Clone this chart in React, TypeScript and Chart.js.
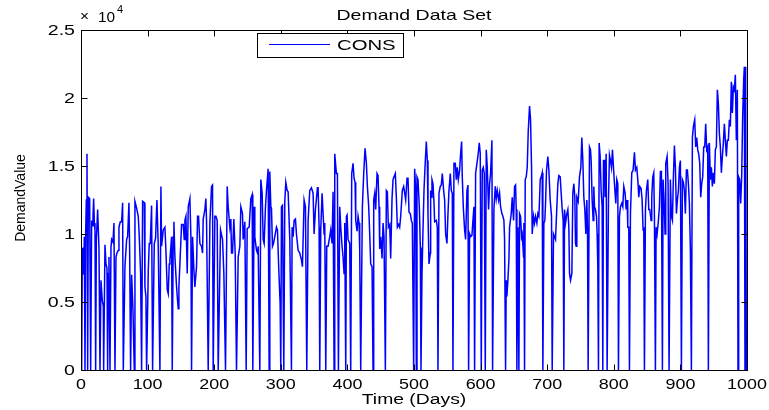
import React, { useEffect, useRef } from "react";
import { Chart, registerables } from "chart.js";

Chart.register(...registerables);

const titleText = "Demand Data Set";
const xTitle = "Time (Days)";
const yTitle = "DemandValue";
const seriesLabel = "CONS";
const xTicks = [0, 100, 200, 300, 400, 500, 600, 700, 800, 900, 1000];
const xTickLabels = ["0", "100", "200", "300", "400", "500", "600", "700", "800", "900", "1000"];
const yTicks = [0, 5000, 10000, 15000, 20000, 25000];
const yTickLabels = ["0", "0.5", "1", "1.5", "2", "2.5"];

// [day, demand]
const cons000to131: [number, number][] = [
  [0, 5000], [1, 0], [2, 8900], [3, 9000], [4, 7000], [5, 9800], [6, 0], [7, 10000], [8, 12500], [9, 15900],
  [10, 0], [11, 12700], [12, 12700], [13, 12600], [14.5, 0], [16, 11000], [17, 10600], [18, 11300], [19, 12600],
  [20, 10800], [21, 10300], [22, 0], [23, 9500], [25, 11800], [27, 8900], [28.5, 0], [30, 6600], [31, 5800],
  [32, 5100], [33.5, 4700], [34, 0], [36, 9200], [37.5, 7800], [39, 7500], [40, 0], [41, 7100], [42, 8300],
  [43.5, 0], [45, 9000], [46, 9600], [48, 9400], [49.5, 10800], [51, 0], [52.5, 8300], [54, 8600], [56, 8800],
  [57, 10500], [59, 10900], [61, 10900], [62.5, 12300], [63.5, 0], [66, 7600], [68.5, 9600], [70, 9800],
  [72, 12300], [73, 9000], [74.5, 0], [76, 7000], [78, 4500], [80, 0], [81, 12400], [83.5, 11900], [86, 11300],
  [87.5, 9800], [89.5, 7100], [91, 0], [92.5, 12400], [95, 12300], [96, 6100], [97.5, 5400], [98.5, 0],
  [101, 7300], [102.5, 9300], [104, 9300], [106, 12100], [107.5, 0], [110, 9300], [112, 9700], [114, 12500],
  [116, 9100], [118.5, 0], [120, 13500], [121, 9100], [123.5, 10300], [126, 10500], [127.5, 8800],
  [129.5, 5900], [131, 5600],
];
const cons132to258: [number, number][] = [
  [132.5, 7800], [133.5, 8100], [136, 9800], [137, 0], [138.5, 9800], [139.5, 10900], [141, 8300], [143.5, 6100],
  [145, 5100], [146, 4500], [147, 6100], [148.5, 7800], [151, 10700], [153.5, 10700], [155, 9600], [156, 11000],
  [157.5, 11300], [159.5, 7100], [161, 12000], [163.5, 12600], [165, 9800], [166, 0], [167.5, 9800],
  [169.5, 7400], [171, 6100], [173.5, 7600], [175, 11300], [176.5, 11300], [178.5, 9300], [181, 9100],
  [182.5, 8600], [183.5, 11100], [186, 11800], [187.5, 12600], [188.5, 11000], [191, 0], [193.5, 10800],
  [196, 13500], [197.5, 13600], [198.5, 0], [201, 11300], [202.5, 11300], [204.5, 11000], [206, 0],
  [209.5, 10300], [212.5, 9600], [214.5, 7100], [217, 0], [219.5, 13500], [221, 12000], [223.5, 10500],
  [225, 11100], [226, 8600], [227.5, 8600], [229.5, 11100], [231.5, 8600], [233.5, 0], [236, 8300],
  [238.5, 9100], [240, 12000], [242.5, 11500], [243.5, 9600], [246, 10900], [248, 0], [249.5, 10400],
  [252.5, 10500], [255, 12600], [257, 12900], [258, 0],
];
const cons260to386: [number, number][] = [
  [260, 12000], [261, 9800], [263.5, 8800], [265, 8600], [266, 9100], [268.5, 0], [270, 14000], [272, 13000],
  [273.5, 9600], [275, 9300], [277, 12000], [278.5, 13200], [281, 14800], [282.5, 0], [283.5, 14600],
  [285, 12000], [286, 11900], [287.5, 9100], [289, 9300], [291, 9800], [293.5, 10500], [295, 10300],
  [297, 7350], [299, 4900], [300, 0], [301, 12000], [302.5, 12100], [304.5, 0], [306, 12400], [307.5, 13800],
  [309.5, 13200], [311, 13100], [313.5, 9600], [316, 0], [317, 10500], [318.5, 9800], [320, 11000],
  [322, 11100], [323.5, 10000], [326, 8800], [328.5, 8600], [331, 8100], [332.5, 7600], [335, 12500],
  [337, 12000], [339, 0], [341, 11000], [343.5, 13200], [346, 13400], [348.5, 13000], [350, 10000],
  [352, 11800], [355, 13400], [356, 13400], [357.5, 10500], [358.5, 0], [360, 10300], [362, 13000],
  [365, 10000], [366, 10800], [367.5, 0], [369, 9100], [371, 9100], [373.5, 9800], [375, 10300], [377, 9300],
  [378.5, 13100], [380, 0], [381, 15900], [383.5, 14450], [385, 14450], [386.5, 0],
];
const cons388to505: [number, number][] = [
  [388.5, 12000], [390, 10500], [392, 9100], [393.5, 8300], [395, 7100], [396, 10800], [397.5, 0],
  [398.5, 11300], [399.5, 11400], [401, 9600], [403.5, 9300], [405, 0], [406.5, 14450], [408.5, 15200],
  [410, 14100], [411.5, 13800], [412.5, 11000], [414.5, 10200], [416, 11300], [417.5, 10800], [418.5, 8800],
  [420, 0], [422.5, 12000], [424.5, 14450], [426.5, 16300], [428.5, 15200], [430, 13500], [432, 12000],
  [433.5, 10000], [435, 7800], [437, 7600], [438.5, 0], [439.5, 12500], [441, 13000], [442.5, 11800],
  [444.5, 14450], [446, 14300], [447.5, 12000], [448.5, 8900], [450, 9800], [452, 8200], [453.5, 10800],
  [455, 9800], [457, 0], [458.5, 13200], [460, 13100], [461.5, 10500], [463.5, 10700], [465, 8200],
  [467, 12600], [468.5, 14000], [470, 14200], [472, 14450], [473.5, 12700], [475, 10500], [477, 10700],
  [478.5, 10500], [480, 11300], [482.5, 13200], [484.5, 13500], [486, 13000], [487.5, 12500], [489.5, 14100],
  [491, 14100], [492.5, 11600], [494.5, 11500], [496, 11000], [497.5, 10800], [499.5, 0], [501, 14800],
  [502.5, 13200], [503.5, 0], [504.5, 14200],
];
const cons506to636: [number, number][] = [
  [506, 14000], [508, 12000], [509.5, 9000], [510.5, 0], [512, 7000], [513.5, 10300], [515, 13200],
  [517, 15400], [518.5, 16800], [520, 15400], [521, 11500], [522.5, 7800], [524.5, 8600], [525, 13200],
  [526, 12700], [527, 14000], [528.5, 13700], [530, 12300], [531, 10900], [533.5, 11000], [535, 10500],
  [536, 0], [537.5, 13000], [539.5, 13500], [541, 13600], [542.5, 14450], [544.5, 13200], [546, 12500],
  [547.5, 10000], [549.5, 9300], [551, 11500], [552.5, 13200], [554.5, 14450], [556, 13200], [557.5, 13000],
  [558.5, 0], [560, 15200], [562, 15200], [563.5, 14000], [565, 14900], [566.5, 14000], [568.5, 14700],
  [570, 15900], [571.5, 16800], [572.5, 14200], [574, 12000], [576, 10300], [577.5, 9600], [579.5, 13200],
  [581, 13600], [582, 0], [583.5, 10000], [585, 9800], [587, 9900], [588.5, 11000], [590, 12000], [591, 0],
  [592.5, 14450], [594.5, 15200], [596, 15700], [598, 16700], [599.5, 15900], [601, 0], [602.5, 14700],
  [604, 14900], [605.5, 14450], [607, 0], [608.5, 16200], [610, 14900], [612, 11800], [613.5, 13700],
  [615, 14450], [617, 16900], [618, 0], [620, 11800], [622, 13500], [623.5, 12600], [625, 13200],
  [627, 12500], [628.5, 13000], [630, 12000], [632, 11500], [633.5, 11300], [635, 11000], [636, 9600],
];
const cons637to762: [number, number][] = [
  [637.5, 0], [638.5, 6600], [639.5, 5400], [641, 6600], [642.5, 8100], [643.5, 10500], [646, 11500],
  [647.5, 12700], [649.5, 11000], [651, 13500], [652.5, 13600], [653.5, 11800], [654.5, 0], [656, 10500],
  [657.5, 0], [658.5, 11500], [660, 11300], [661.5, 9800], [662.5, 10000], [664.5, 8300], [665, 10800],
  [666, 0], [667, 14000], [668.5, 14200], [670, 14900], [671.5, 17500], [673.5, 19400], [675, 18400],
  [676.5, 14900], [677.5, 10000], [679.5, 11300], [681, 10800], [682.5, 11300], [684.5, 10800], [686, 11500],
  [687.5, 11300], [688.5, 12500], [689.5, 14000], [691, 14200], [692.5, 14500], [693.5, 0], [695, 10800],
  [696.5, 11000], [697.5, 12250], [699, 14700], [701, 15700], [702.5, 14700], [704.5, 12500], [706.5, 11300],
  [707.5, 0], [709.5, 10000], [711, 9800], [712.5, 9600], [714.5, 12000], [716, 13700], [717.5, 14300],
  [719.5, 14200], [721, 13000], [722.5, 11800], [724, 11000], [725, 0], [726, 11800], [727.5, 10800],
  [729.5, 11500], [731, 11800], [732.5, 10500], [733.5, 7100], [735, 6600], [737, 7100], [738.5, 13000],
  [740, 13700], [741.5, 12700], [742.5, 9300], [743.5, 9100], [744.5, 12700], [746.5, 12400], [748.5, 14200],
  [750.5, 14900], [752, 17100], [753.5, 15400], [755, 12700], [756.5, 11800], [758, 10000], [759.5, 12500],
  [760.5, 10500], [761.5, 0],
];
const cons763to877: [number, number][] = [
  [763.5, 16400], [765, 16200], [766, 15400], [767.5, 12500], [769, 11000], [770, 13500], [771, 12000],
  [772.5, 11800], [774, 11300], [775, 10000], [776, 7600], [777, 0], [778, 16700], [779.5, 15700],
  [781, 13200], [782.5, 12000], [783.5, 0], [784.5, 15400], [786, 15400], [787, 12700], [788.5, 15900],
  [790, 0], [792, 12500], [793.5, 15800], [795, 15400], [796.5, 14900], [798, 16200], [799.5, 14900],
  [801, 13700], [803, 12250], [804.5, 14000], [806, 13700], [807, 0], [808.5, 11300], [810, 12000],
  [812, 12250], [813.5, 12000], [815, 13500], [817, 13000], [818.5, 11800], [820, 12500], [821, 10500],
  [822.5, 10500], [823.5, 0], [825, 11500], [827, 14500], [829, 14700], [831, 16000], [832.5, 14700],
  [834.5, 14900], [836, 14000], [837.5, 12700], [839, 13500], [841, 13350], [842.5, 12500], [844, 10300],
  [845, 10500], [846, 0], [847.5, 11800], [849, 13200], [851, 14000], [852.5, 11800], [854, 11800],
  [856, 11000], [857, 12700], [858.5, 14200], [860, 14500], [861, 11300], [862.5, 0], [863.5, 10500],
  [865, 10000], [867, 11000], [868.5, 12000], [870, 14600], [871.5, 14600], [873, 0], [874, 14000],
  [875.5, 12500], [877, 10000],
];
const cons878to999: [number, number][] = [
  [878, 15200], [880, 15700], [881.5, 13700], [883, 0], [885, 14000], [886.5, 11300], [888, 11000],
  [889.5, 14200], [891, 16500], [892.5, 14900], [894, 11500], [895.5, 12500], [897, 13200], [898.5, 14900],
  [900, 15400], [901.5, 0], [903, 14000], [904.5, 13800], [906, 13200], [907.5, 11500], [909, 14700],
  [910.5, 14700], [912, 13700], [913.5, 12250], [915, 8800], [916.5, 0], [918, 17100], [919.5, 17900],
  [921.5, 18400], [923, 16400], [924.5, 17100], [926, 16200], [927.5, 15900], [929, 15200], [930.5, 12700],
  [932, 13700], [933.5, 14200], [935, 16400], [936.5, 16400], [938, 18100], [939.5, 16200], [941, 16400],
  [942, 0], [943.5, 16700], [945, 14000], [946.5, 14900], [948, 13500], [949.5, 14500], [951, 13700],
  [952.5, 16200], [954, 16400], [955.5, 20600], [957, 19600], [958.5, 17400], [960, 16400], [961.5, 14500],
  [963, 15700], [964.5, 16700], [966, 18100], [967.5, 16900], [969, 15700], [970.5, 16900], [972, 16900],
  [973.5, 18400], [975, 17900], [976.5, 21200], [978, 18900], [979.5, 20800], [981, 20600], [982.5, 21700],
  [984, 16900], [985.5, 20600], [986.5, 0], [987.5, 14200], [989, 14000], [990.5, 12250], [992, 14200],
  [993.5, 18600], [995, 21300], [996, 22300], [997, 0], [998, 22300], [999, 0],
];

const FONT = '"Liberation Sans", Arial, sans-serif';

export default function App() {
  const ref = useRef<HTMLCanvasElement | null>(null);

  useEffect(() => {
    if (!ref.current) return;
    const segments = [
      cons000to131, cons132to258, cons260to386, cons388to505,
      cons506to636, cons637to762, cons763to877, cons878to999,
    ];
    const points = segments.flat().map(([x, y]) => ({ x, y }));

    const overlay = {
      id: "matlabOverlay",
      afterDraw(chart: any) {
        const { ctx, chartArea: a, scales } = chart;
        const xs = scales.x;
        const ys = scales.y;
        ctx.save();
        // frame
        ctx.strokeStyle = "#000";
        ctx.lineWidth = 1;
        const L = Math.round(a.left) + 0.5;
        const R = Math.round(a.right) + 0.5;
        const T = Math.round(a.top) + 0.5;
        const B = Math.round(a.bottom) + 0.5;
        ctx.strokeRect(L, T, R - L, B - T);
        // inward ticks on all four sides
        ctx.beginPath();
        xTicks.forEach((v) => {
          const px = Math.round(xs.getPixelForValue(v)) + 0.5;
          ctx.moveTo(px, B);
          ctx.lineTo(px, B - 6);
          ctx.moveTo(px, T);
          ctx.lineTo(px, T + 6);
        });
        yTicks.forEach((v) => {
          const py = Math.round(ys.getPixelForValue(v)) + 0.5;
          ctx.moveTo(L, py);
          ctx.lineTo(L + 6, py);
          ctx.moveTo(R, py);
          ctx.lineTo(R - 6, py);
        });
        ctx.stroke();

        const txt = (
          s: string, x: number, y: number, size: number, sx: number,
          align: CanvasTextAlign, rot = 0, base: CanvasTextBaseline = "alphabetic"
        ) => {
          ctx.save();
          ctx.translate(x, y);
          if (rot) ctx.rotate(rot);
          ctx.scale(sx, 1);
          ctx.font = `${size}px ${FONT}`;
          ctx.textAlign = align;
          ctx.textBaseline = base;
          ctx.fillStyle = "#000";
          ctx.fillText(s, 0, 0);
          ctx.restore();
        };

        // tick labels
        xTicks.forEach((v, i) => {
          txt(xTickLabels[i], xs.getPixelForValue(v), a.bottom + 18.5, 14, 1.28, "center");
        });
        yTicks.forEach((v, i) => {
          txt(yTickLabels[i], a.left - 6, ys.getPixelForValue(v) + 5, 14, 1.4, "right");
        });

        const cx = (a.left + a.right) / 2;
        // title
        txt(titleText, cx, 19.5, 15, 1.3, "center");
        // exponent label
        txt("\u00d7", a.left - 1, 21, 14, 1.1, "left");
        txt("10", a.left + 17, 21.5, 14, 1.1, "left");
        txt("4", a.left + 36, 13, 10, 1.1, "left");
        // axis titles
        txt(xTitle, cx, 404, 14, 1.38, "center");
        txt(yTitle, 25, (a.top + a.bottom) / 2 - 2, 14, 1.0, "center", -Math.PI / 2);

        // legend
        const lx = a.left + 176;
        const ly = a.top + 3;
        const lw = 146;
        const lh = 24;
        ctx.fillStyle = "#fff";
        ctx.fillRect(lx, ly, lw, lh);
        ctx.strokeStyle = "#000";
        ctx.lineWidth = 1;
        ctx.strokeRect(Math.round(lx) + 0.5, Math.round(ly) + 0.5, lw, lh);
        ctx.strokeStyle = "#0000ff";
        ctx.beginPath();
        ctx.moveTo(lx + 12, Math.round(ly + 11) + 0.5);
        ctx.lineTo(lx + 73, Math.round(ly + 11) + 0.5);
        ctx.stroke();
        txt(seriesLabel, lx + 80, ly + 17, 14, 1.45, "left");
        ctx.restore();
      },
    };

    const chart = new Chart(ref.current, {
      type: "line",
      data: {
        datasets: [
          {
            label: seriesLabel,
            data: points,
            borderColor: "#0000ff",
            backgroundColor: "#0000ff",
            borderWidth: 1.5,
            pointRadius: 0,
            tension: 0,
            fill: false,
          },
        ],
      },
      options: {
        animation: false,
        responsive: false,
        events: [],
        layout: { padding: { left: 0, right: 22, top: 30, bottom: 0 } },
        plugins: {
          legend: { display: false },
          title: { display: false },
          tooltip: { enabled: false },
        },
        scales: {
          x: {
            type: "linear",
            min: 0,
            max: 1000,
            grid: { display: false, drawTicks: false },
            border: { display: false },
            afterBuildTicks: (s: any) => {
              s.ticks = xTicks.map((v) => ({ value: v }));
            },
            ticks: { display: false },
            afterFit: (s: any) => {
              s.height = 40;
              s.paddingLeft = 0;
              s.paddingRight = 0;
            },
          },
          y: {
            type: "linear",
            min: 0,
            max: 25000,
            grid: { display: false, drawTicks: false },
            border: { display: false },
            afterBuildTicks: (s: any) => {
              s.ticks = yTicks.map((v) => ({ value: v }));
            },
            ticks: { display: false },
            afterFit: (s: any) => {
              s.width = 81;
              s.paddingTop = 0;
              s.paddingBottom = 0;
            },
          },
        },
      },
      plugins: [overlay],
    });
    return () => chart.destroy();
  }, []);

  return (
    <div style={{ position: "fixed", left: 0, top: 0, width: 769, height: 410, background: "#fff" }}>
      <canvas ref={ref} width={769} height={410} style={{ display: "block", width: 769, height: 410 }} />
    </div>
  );
}
